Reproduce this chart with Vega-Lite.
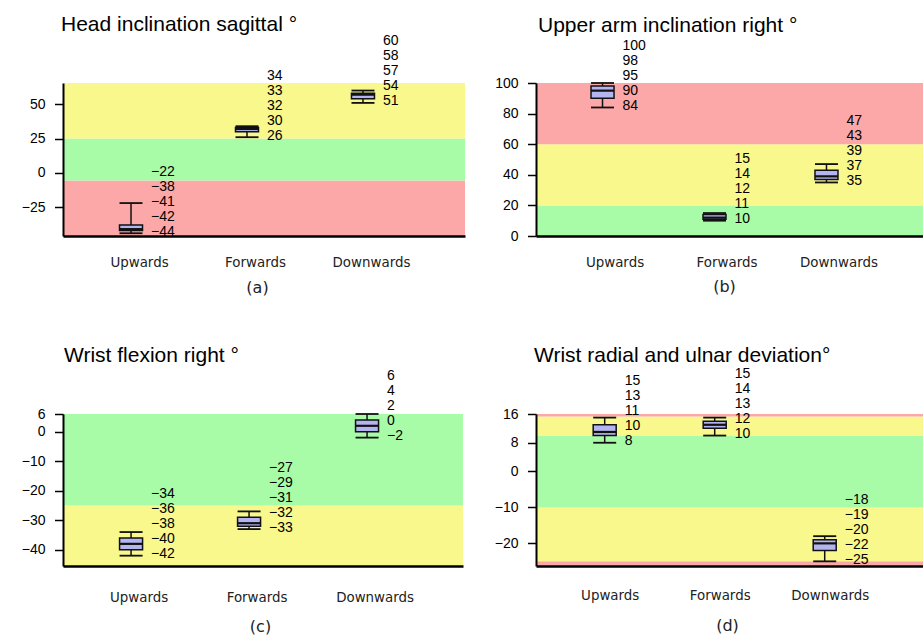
{
  "$schema": "https://vega.github.io/schema/vega-lite/v6.json",
  "padding": {"left": 21, "top": 14, "right": 0, "bottom": 0},
  "config": {
    "view": {"stroke": null},
    "axis": {"domainColor": "black", "tickColor": "black", "labelColor": "black", "grid": false, "zindex": 1},
    "axisY": {"domainWidth": 2, "tickWidth": 1.5, "tickSize": 8.5, "labelPadding": 9.5, "labelFont": "Liberation Sans", "labelFontSize": 14, "labelOverlap": false},
    "axisX": {"domainWidth": 2.5, "ticks": false, "labelFont": "DejaVu Sans", "labelFontSize": 13.4, "labelColor": "#222", "labelAngle": 0, "titleFont": "DejaVu Sans", "titleFontSize": 16, "titleFontWeight": "normal", "titleColor": "#222"},
    "title": {"font": "Liberation Sans", "fontSize": 21, "fontWeight": "normal", "color": "black", "anchor": "start", "frame": "group", "baseline": "alphabetic"},
    "text": {"font": "Liberation Sans", "fontSize": 14, "color": "black"}
  },
  "datasets": {
    "bands": [
      {"panel": "a", "lo": -46, "hi": -5.5, "risk": "high"},
      {"panel": "a", "lo": -5.5, "hi": 25, "risk": "low"},
      {"panel": "a", "lo": 25, "hi": 65.5, "risk": "medium"},
      {"panel": "b", "lo": 0, "hi": 20, "risk": "low"},
      {"panel": "b", "lo": 20, "hi": 60, "risk": "medium"},
      {"panel": "b", "lo": 60, "hi": 100, "risk": "high"},
      {"panel": "c", "lo": -45.5, "hi": -25, "risk": "medium"},
      {"panel": "c", "lo": -25, "hi": 6, "risk": "low"},
      {"panel": "d", "lo": -26.3, "hi": -25, "risk": "high"},
      {"panel": "d", "lo": -25, "hi": -10, "risk": "medium"},
      {"panel": "d", "lo": -10, "hi": 10, "risk": "low"},
      {"panel": "d", "lo": 10, "hi": 15.3, "risk": "medium"},
      {"panel": "d", "lo": 15.3, "hi": 16, "risk": "high"}
    ],
    "boxes": [
      {"panel": "a", "cat": "Upwards", "min": -44, "q1": -42, "median": -41, "q3": -38, "max": -22},
      {"panel": "a", "cat": "Forwards", "min": 26, "q1": 30, "median": 32, "q3": 33, "max": 34},
      {"panel": "a", "cat": "Downwards", "min": 51, "q1": 54, "median": 57, "q3": 58, "max": 60},
      {"panel": "b", "cat": "Upwards", "min": 84, "q1": 90, "median": 95, "q3": 98, "max": 100},
      {"panel": "b", "cat": "Forwards", "min": 10, "q1": 11, "median": 12, "q3": 14, "max": 15},
      {"panel": "b", "cat": "Downwards", "min": 35, "q1": 37, "median": 39, "q3": 43, "max": 47},
      {"panel": "c", "cat": "Upwards", "min": -42, "q1": -40, "median": -38, "q3": -36, "max": -34},
      {"panel": "c", "cat": "Forwards", "min": -33, "q1": -32, "median": -31, "q3": -29, "max": -27},
      {"panel": "c", "cat": "Downwards", "min": -2, "q1": 0, "median": 2, "q3": 4, "max": 6},
      {"panel": "d", "cat": "Upwards", "min": 8, "q1": 10, "median": 11, "q3": 13, "max": 15},
      {"panel": "d", "cat": "Forwards", "min": 10, "q1": 12, "median": 13, "q3": 14, "max": 15},
      {"panel": "d", "cat": "Downwards", "min": -25, "q1": -22, "median": -20, "q3": -19, "max": -18}
    ]
  },
  "columns": 2,
  "align": "none",
  "bounds": "flush",
  "spacing": {"row": 178, "column": 71},
  "concat": [
    {
      "width": 402, "height": 153,
      "title": {"text": "Head inclination sagittal °", "offset": -1, "dx": -2},
      "layer": [
        {"data": {"name": "bands"}, "transform": [{"filter": "datum.panel === 'a'"}], "mark": {"type": "rect"},
         "encoding": {
           "y": {"field": "lo", "type": "quantitative", "title": null, "scale": {"domain": [-46, 65.5], "nice": false, "zero": false}, "axis": {"values": [50, 25, 0, -25], "labelOverlap": false, "zindex": 2}},
           "y2": {"field": "hi"},
           "color": {"field": "risk", "type": "nominal", "scale": {"domain": ["low", "medium", "high"], "range": ["#a8fca8", "#f8f88c", "#fca8a8"]}, "legend": null}}},
        {"data": {"name": "boxes"}, "transform": [{"filter": "datum.panel === 'a'"}],
         "encoding": {"x": {"field": "cat", "type": "nominal", "sort": null, "scale": {"type": "point", "domain": ["Upwards", "Forwards", "Downwards"], "padding": 0.733, "align": 0.4}, "axis": {"title": "(a)", "labelOffset": 8, "labelPadding": 19, "titleX": 194, "titlePadding": 11.5, "zindex": 2}}},
         "layer": [
           {"mark": {"type": "rule", "color": "#111", "strokeWidth": 1.5}, "encoding": {"y": {"field": "min", "type": "quantitative", "title": null, "axis": {"values": [50, 25, 0, -25], "labelOverlap": false, "zindex": 2}}, "y2": {"field": "max"}}},
           {"mark": {"type": "tick", "color": "#111", "size": 23, "thickness": 1.8, "opacity": 1}, "encoding": {"y": {"field": "min", "type": "quantitative", "title": null, "axis": {"values": [50, 25, 0, -25], "labelOverlap": false, "zindex": 2}}}},
           {"mark": {"type": "tick", "color": "#111", "size": 23, "thickness": 1.8, "opacity": 1}, "encoding": {"y": {"field": "max", "type": "quantitative", "title": null, "axis": {"values": [50, 25, 0, -25], "labelOverlap": false, "zindex": 2}}}},
           {"mark": {"type": "bar", "size": 23, "fill": "#b4b4f0", "stroke": "#111", "strokeWidth": 1.5}, "encoding": {"y": {"field": "q1", "type": "quantitative", "title": null, "axis": {"values": [50, 25, 0, -25], "labelOverlap": false, "zindex": 2}}, "y2": {"field": "q3"}}},
           {"mark": {"type": "tick", "color": "#111", "size": 23, "thickness": 2.2, "opacity": 1}, "encoding": {"y": {"field": "median", "type": "quantitative", "title": null, "axis": {"values": [50, 25, 0, -25], "labelOverlap": false, "zindex": 2}}}},
           {"mark": {"type": "text", "align": "left", "baseline": "middle", "dx": 20, "dy": -1.5}, "encoding": {"y": {"field": "min", "type": "quantitative", "title": null, "axis": {"values": [50, 25, 0, -25], "labelOverlap": false, "zindex": 2}}, "text": {"field": "min", "type": "quantitative"}}},
           {"mark": {"type": "text", "align": "left", "baseline": "middle", "dx": 20, "dy": -16.5}, "encoding": {"y": {"field": "min", "type": "quantitative", "title": null, "axis": {"values": [50, 25, 0, -25], "labelOverlap": false, "zindex": 2}}, "text": {"field": "q1", "type": "quantitative"}}},
           {"mark": {"type": "text", "align": "left", "baseline": "middle", "dx": 20, "dy": -31.5}, "encoding": {"y": {"field": "min", "type": "quantitative", "title": null, "axis": {"values": [50, 25, 0, -25], "labelOverlap": false, "zindex": 2}}, "text": {"field": "median", "type": "quantitative"}}},
           {"mark": {"type": "text", "align": "left", "baseline": "middle", "dx": 20, "dy": -46.5}, "encoding": {"y": {"field": "min", "type": "quantitative", "title": null, "axis": {"values": [50, 25, 0, -25], "labelOverlap": false, "zindex": 2}}, "text": {"field": "q3", "type": "quantitative"}}},
           {"mark": {"type": "text", "align": "left", "baseline": "middle", "dx": 20, "dy": -61.5}, "encoding": {"y": {"field": "min", "type": "quantitative", "title": null, "axis": {"values": [50, 25, 0, -25], "labelOverlap": false, "zindex": 2}}, "text": {"field": "max", "type": "quantitative"}}}
         ]}
      ]
    },
    {
      "width": 387, "height": 153,
      "title": {"text": "Upper arm inclination right °", "offset": 3.4, "dx": 2},
      "layer": [
        {"data": {"name": "bands"}, "transform": [{"filter": "datum.panel === 'b'"}], "mark": {"type": "rect"},
         "encoding": {
           "y": {"field": "lo", "type": "quantitative", "title": null, "scale": {"domain": [0, 100], "nice": false, "zero": false}, "axis": {"values": [100, 80, 60, 40, 20, 0], "labelOverlap": false, "zindex": 2}},
           "y2": {"field": "hi"},
           "color": {"field": "risk", "type": "nominal", "scale": {"domain": ["low", "medium", "high"], "range": ["#a8fca8", "#f8f88c", "#fca8a8"]}, "legend": null}}},
        {"data": {"name": "boxes"}, "transform": [{"filter": "datum.panel === 'b'"}],
         "encoding": {"x": {"field": "cat", "type": "nominal", "sort": null, "scale": {"type": "point", "domain": ["Upwards", "Forwards", "Downwards"], "padding": 0.728, "align": 0.408}, "axis": {"title": "(b)", "labelOffset": 12, "labelPadding": 19.5, "titleX": 188, "titlePadding": 10, "zindex": 2}}},
         "layer": [
           {"mark": {"type": "rule", "color": "#111", "strokeWidth": 1.5}, "encoding": {"y": {"field": "min", "type": "quantitative", "title": null, "axis": {"values": [100, 80, 60, 40, 20, 0], "labelOverlap": false, "zindex": 2}}, "y2": {"field": "max"}}},
           {"mark": {"type": "tick", "color": "#111", "size": 23, "thickness": 1.8, "opacity": 1}, "encoding": {"y": {"field": "min", "type": "quantitative", "title": null, "axis": {"values": [100, 80, 60, 40, 20, 0], "labelOverlap": false, "zindex": 2}}}},
           {"mark": {"type": "tick", "color": "#111", "size": 23, "thickness": 1.8, "opacity": 1}, "encoding": {"y": {"field": "max", "type": "quantitative", "title": null, "axis": {"values": [100, 80, 60, 40, 20, 0], "labelOverlap": false, "zindex": 2}}}},
           {"mark": {"type": "bar", "size": 23, "fill": "#b4b4f0", "stroke": "#111", "strokeWidth": 1.5}, "encoding": {"y": {"field": "q1", "type": "quantitative", "title": null, "axis": {"values": [100, 80, 60, 40, 20, 0], "labelOverlap": false, "zindex": 2}}, "y2": {"field": "q3"}}},
           {"mark": {"type": "tick", "color": "#111", "size": 23, "thickness": 2.2, "opacity": 1}, "encoding": {"y": {"field": "median", "type": "quantitative", "title": null, "axis": {"values": [100, 80, 60, 40, 20, 0], "labelOverlap": false, "zindex": 2}}}},
           {"mark": {"type": "text", "align": "left", "baseline": "middle", "dx": 20, "dy": -1.5}, "encoding": {"y": {"field": "min", "type": "quantitative", "title": null, "axis": {"values": [100, 80, 60, 40, 20, 0], "labelOverlap": false, "zindex": 2}}, "text": {"field": "min", "type": "quantitative"}}},
           {"mark": {"type": "text", "align": "left", "baseline": "middle", "dx": 20, "dy": -16.5}, "encoding": {"y": {"field": "min", "type": "quantitative", "title": null, "axis": {"values": [100, 80, 60, 40, 20, 0], "labelOverlap": false, "zindex": 2}}, "text": {"field": "q1", "type": "quantitative"}}},
           {"mark": {"type": "text", "align": "left", "baseline": "middle", "dx": 20, "dy": -31.5}, "encoding": {"y": {"field": "min", "type": "quantitative", "title": null, "axis": {"values": [100, 80, 60, 40, 20, 0], "labelOverlap": false, "zindex": 2}}, "text": {"field": "median", "type": "quantitative"}}},
           {"mark": {"type": "text", "align": "left", "baseline": "middle", "dx": 20, "dy": -46.5}, "encoding": {"y": {"field": "min", "type": "quantitative", "title": null, "axis": {"values": [100, 80, 60, 40, 20, 0], "labelOverlap": false, "zindex": 2}}, "text": {"field": "q3", "type": "quantitative"}}},
           {"mark": {"type": "text", "align": "left", "baseline": "middle", "dx": 20, "dy": -61.5}, "encoding": {"y": {"field": "min", "type": "quantitative", "title": null, "axis": {"values": [100, 80, 60, 40, 20, 0], "labelOverlap": false, "zindex": 2}}, "text": {"field": "max", "type": "quantitative"}}}
         ]}
      ]
    },
    {
      "width": 400, "height": 152,
      "title": {"text": "Wrist flexion right °", "offset": 2.9, "dx": 1},
      "layer": [
        {"data": {"name": "bands"}, "transform": [{"filter": "datum.panel === 'c'"}], "mark": {"type": "rect"},
         "encoding": {
           "y": {"field": "lo", "type": "quantitative", "title": null, "scale": {"domain": [-45.5, 6], "nice": false, "zero": false}, "axis": {"values": [6, 0, -10, -20, -30, -40], "labelOverlap": false, "zindex": 2}},
           "y2": {"field": "hi"},
           "color": {"field": "risk", "type": "nominal", "scale": {"domain": ["low", "medium", "high"], "range": ["#a8fca8", "#f8f88c", "#fca8a8"]}, "legend": null}}},
        {"data": {"name": "boxes"}, "transform": [{"filter": "datum.panel === 'c'"}],
         "encoding": {"x": {"field": "cat", "type": "nominal", "sort": null, "scale": {"type": "point", "domain": ["Upwards", "Forwards", "Downwards"], "padding": 0.695, "align": 0.415}, "axis": {"title": "(c)", "labelOffset": 7.5, "labelPadding": 24, "titleX": 197, "titlePadding": 15, "zindex": 2}}},
         "layer": [
           {"mark": {"type": "rule", "color": "#111", "strokeWidth": 1.5}, "encoding": {"y": {"field": "min", "type": "quantitative", "title": null, "axis": {"values": [6, 0, -10, -20, -30, -40], "labelOverlap": false, "zindex": 2}}, "y2": {"field": "max"}}},
           {"mark": {"type": "tick", "color": "#111", "size": 23, "thickness": 1.8, "opacity": 1}, "encoding": {"y": {"field": "min", "type": "quantitative", "title": null, "axis": {"values": [6, 0, -10, -20, -30, -40], "labelOverlap": false, "zindex": 2}}}},
           {"mark": {"type": "tick", "color": "#111", "size": 23, "thickness": 1.8, "opacity": 1}, "encoding": {"y": {"field": "max", "type": "quantitative", "title": null, "axis": {"values": [6, 0, -10, -20, -30, -40], "labelOverlap": false, "zindex": 2}}}},
           {"mark": {"type": "bar", "size": 23, "fill": "#b4b4f0", "stroke": "#111", "strokeWidth": 1.5}, "encoding": {"y": {"field": "q1", "type": "quantitative", "title": null, "axis": {"values": [6, 0, -10, -20, -30, -40], "labelOverlap": false, "zindex": 2}}, "y2": {"field": "q3"}}},
           {"mark": {"type": "tick", "color": "#111", "size": 23, "thickness": 2.2, "opacity": 1}, "encoding": {"y": {"field": "median", "type": "quantitative", "title": null, "axis": {"values": [6, 0, -10, -20, -30, -40], "labelOverlap": false, "zindex": 2}}}},
           {"mark": {"type": "text", "align": "left", "baseline": "middle", "dx": 20, "dy": -1.5}, "encoding": {"y": {"field": "min", "type": "quantitative", "title": null, "axis": {"values": [6, 0, -10, -20, -30, -40], "labelOverlap": false, "zindex": 2}}, "text": {"field": "min", "type": "quantitative"}}},
           {"mark": {"type": "text", "align": "left", "baseline": "middle", "dx": 20, "dy": -16.5}, "encoding": {"y": {"field": "min", "type": "quantitative", "title": null, "axis": {"values": [6, 0, -10, -20, -30, -40], "labelOverlap": false, "zindex": 2}}, "text": {"field": "q1", "type": "quantitative"}}},
           {"mark": {"type": "text", "align": "left", "baseline": "middle", "dx": 20, "dy": -31.5}, "encoding": {"y": {"field": "min", "type": "quantitative", "title": null, "axis": {"values": [6, 0, -10, -20, -30, -40], "labelOverlap": false, "zindex": 2}}, "text": {"field": "median", "type": "quantitative"}}},
           {"mark": {"type": "text", "align": "left", "baseline": "middle", "dx": 20, "dy": -46.5}, "encoding": {"y": {"field": "min", "type": "quantitative", "title": null, "axis": {"values": [6, 0, -10, -20, -30, -40], "labelOverlap": false, "zindex": 2}}, "text": {"field": "q3", "type": "quantitative"}}},
           {"mark": {"type": "text", "align": "left", "baseline": "middle", "dx": 20, "dy": -61.5}, "encoding": {"y": {"field": "min", "type": "quantitative", "title": null, "axis": {"values": [6, 0, -10, -20, -30, -40], "labelOverlap": false, "zindex": 2}}, "text": {"field": "max", "type": "quantitative"}}}
         ]}
      ]
    },
    {
      "width": 389, "height": 152,
      "title": {"text": "Wrist radial and ulnar deviation°", "offset": 0.9, "dx": -2},
      "layer": [
        {"data": {"name": "bands"}, "transform": [{"filter": "datum.panel === 'd'"}], "mark": {"type": "rect"},
         "encoding": {
           "y": {"field": "lo", "type": "quantitative", "title": null, "scale": {"domain": [-26.3, 16], "nice": false, "zero": false}, "axis": {"values": [16, 8, 0, -10, -20], "labelOverlap": false, "zindex": 2}},
           "y2": {"field": "hi"},
           "color": {"field": "risk", "type": "nominal", "scale": {"domain": ["low", "medium", "high"], "range": ["#a8fca8", "#f8f88c", "#fca8a8"]}, "legend": null}}},
        {"data": {"name": "boxes"}, "transform": [{"filter": "datum.panel === 'd'"}],
         "encoding": {"x": {"field": "cat", "type": "nominal", "sort": null, "scale": {"type": "point", "domain": ["Upwards", "Forwards", "Downwards"], "padding": 0.768, "align": 0.4065}, "axis": {"title": "(d)", "labelOffset": 5, "labelPadding": 22, "titleX": 191, "titlePadding": 16.5, "zindex": 2}}},
         "layer": [
           {"mark": {"type": "rule", "color": "#111", "strokeWidth": 1.5}, "encoding": {"y": {"field": "min", "type": "quantitative", "title": null, "axis": {"values": [16, 8, 0, -10, -20], "labelOverlap": false, "zindex": 2}}, "y2": {"field": "max"}}},
           {"mark": {"type": "tick", "color": "#111", "size": 23, "thickness": 1.8, "opacity": 1}, "encoding": {"y": {"field": "min", "type": "quantitative", "title": null, "axis": {"values": [16, 8, 0, -10, -20], "labelOverlap": false, "zindex": 2}}}},
           {"mark": {"type": "tick", "color": "#111", "size": 23, "thickness": 1.8, "opacity": 1}, "encoding": {"y": {"field": "max", "type": "quantitative", "title": null, "axis": {"values": [16, 8, 0, -10, -20], "labelOverlap": false, "zindex": 2}}}},
           {"mark": {"type": "bar", "size": 23, "fill": "#b4b4f0", "stroke": "#111", "strokeWidth": 1.5}, "encoding": {"y": {"field": "q1", "type": "quantitative", "title": null, "axis": {"values": [16, 8, 0, -10, -20], "labelOverlap": false, "zindex": 2}}, "y2": {"field": "q3"}}},
           {"mark": {"type": "tick", "color": "#111", "size": 23, "thickness": 2.2, "opacity": 1}, "encoding": {"y": {"field": "median", "type": "quantitative", "title": null, "axis": {"values": [16, 8, 0, -10, -20], "labelOverlap": false, "zindex": 2}}}},
           {"mark": {"type": "text", "align": "left", "baseline": "middle", "dx": 20, "dy": -1.5}, "encoding": {"y": {"field": "min", "type": "quantitative", "title": null, "axis": {"values": [16, 8, 0, -10, -20], "labelOverlap": false, "zindex": 2}}, "text": {"field": "min", "type": "quantitative"}}},
           {"mark": {"type": "text", "align": "left", "baseline": "middle", "dx": 20, "dy": -16.5}, "encoding": {"y": {"field": "min", "type": "quantitative", "title": null, "axis": {"values": [16, 8, 0, -10, -20], "labelOverlap": false, "zindex": 2}}, "text": {"field": "q1", "type": "quantitative"}}},
           {"mark": {"type": "text", "align": "left", "baseline": "middle", "dx": 20, "dy": -31.5}, "encoding": {"y": {"field": "min", "type": "quantitative", "title": null, "axis": {"values": [16, 8, 0, -10, -20], "labelOverlap": false, "zindex": 2}}, "text": {"field": "median", "type": "quantitative"}}},
           {"mark": {"type": "text", "align": "left", "baseline": "middle", "dx": 20, "dy": -46.5}, "encoding": {"y": {"field": "min", "type": "quantitative", "title": null, "axis": {"values": [16, 8, 0, -10, -20], "labelOverlap": false, "zindex": 2}}, "text": {"field": "q3", "type": "quantitative"}}},
           {"mark": {"type": "text", "align": "left", "baseline": "middle", "dx": 20, "dy": -61.5}, "encoding": {"y": {"field": "min", "type": "quantitative", "title": null, "axis": {"values": [16, 8, 0, -10, -20], "labelOverlap": false, "zindex": 2}}, "text": {"field": "max", "type": "quantitative"}}}
         ]}
      ]
    }
  ]
}
